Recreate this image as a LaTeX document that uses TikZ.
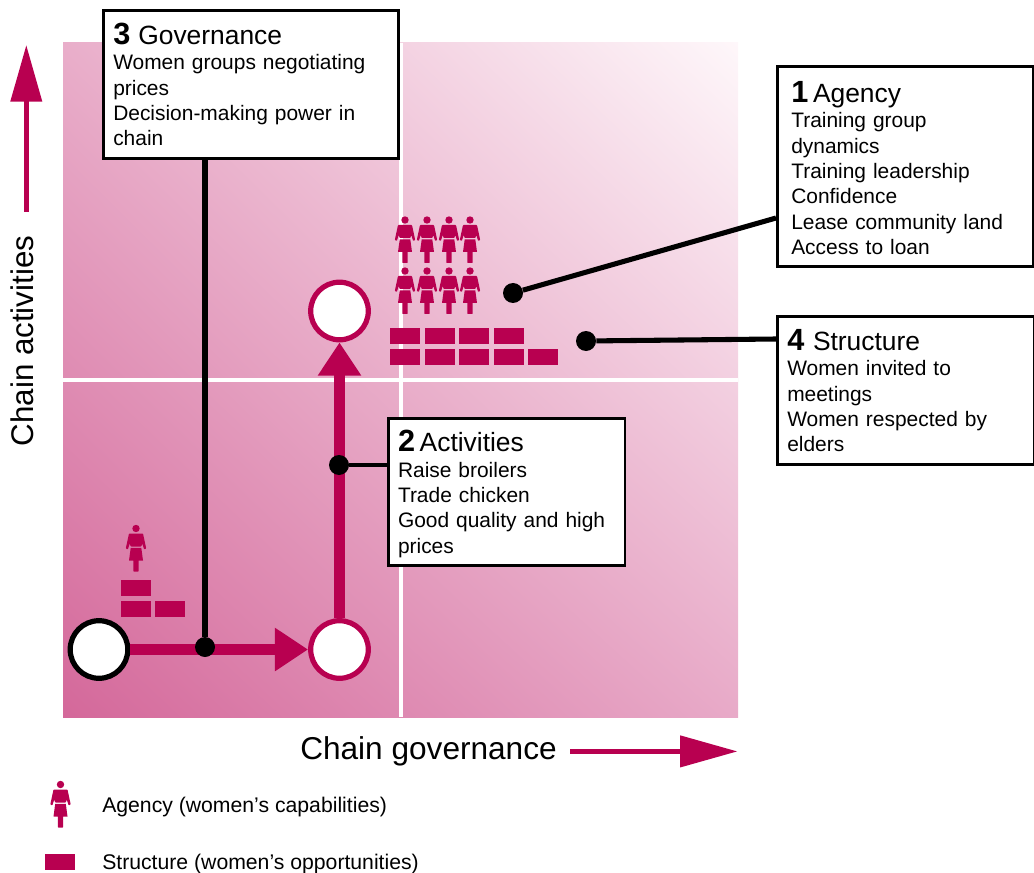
\documentclass[tikz,border=0pt]{standalone}
\usepackage{fontspec}
\setmainfont{Liberation Sans}
\usetikzlibrary{arrows.meta,shadings}
\definecolor{mag}{RGB}{184,0,80}
\definecolor{cLL}{RGB}{212,104,154}
\definecolor{cLR}{RGB}{232,170,200}
\definecolor{cUL}{RGB}{233,174,202}
\definecolor{cUR}{RGB}{254,247,250}
\tikzset{x=0.75pt,y=-0.75pt,
 textbox/.style={draw=black,line width=1.9pt,fill=white,anchor=north west,inner xsep=7.5pt,inner ysep=0pt,align=left,font=\fontsize{15.7}{19}\selectfont},
 brick/.style={fill=mag,draw=none,anchor=north west,minimum width=22.5pt,minimum height=12pt,inner sep=0pt},
 ring/.style={circle,fill=white,draw=mag,line width=3.9pt,minimum size=43.2pt,inner sep=0pt},
 blackring/.style={ring,draw=black},
 dot/.style={circle,fill=black,draw=none,minimum size=15pt,inner sep=0pt},
 leader/.style={draw=black,line width=3.8pt},
 thinleader/.style={draw=black,line width=3pt},
 flow/.style={draw=mag,line width=7.9pt},
 axisarrow/.style={draw=mag,line width=3.8pt},
 woman/.pic={
  \fill[mag] (0,0) circle (3.7);
  \fill[mag,rounded corners=0.5pt] (-7,5) -- (7,5) -- (10.2,20) -- (8.2,21) -- (6.2,15) -- (5.4,18) -- (-5.4,18) -- (-6.2,15) -- (-8.2,21) -- (-10.2,20) -- cycle;
  \fill[mag] (-5.3,19.4) -- (5.3,19.4) -- (7,32) -- (2.7,32) -- (2.7,42) [rounded corners=0.5pt] -- (2.7,43) -- (-2.7,43) -- (-2.7,42) [sharp corners] -- (-2.7,32) -- (-7,32) -- cycle;
 }}
\newcommand{\boxtitle}[3]{{\fontsize{23}{19}\selectfont\textbf{#1}}\hspace{#3}{\fontsize{19.8}{19}\selectfont #2}}
\begin{document}
\begin{tikzpicture}
\useasboundingbox (0,0) rectangle (1034,873);
\shade[lower left=cLL,lower right=cLR,upper left=cUL,upper right=cUR] (63,717) rectangle (738,43);
\fill[white] (399,43) rectangle (403,717);
\fill[white] (63,378) rectangle (738,382);
% bricks
\foreach \nm/\bx/\by in {a/390/328,b/425/328,c/459/328,d/494/328,e/390/349,f/425/349,g/459/349,h/494/349,i/528/349,j/121/580,k/121/601,l/155/601}
  \node[brick] (br\nm) at (\bx,\by) {};
% women
\foreach \wx in {405,427,449,470}{
  \pic at (\wx,220) {woman};
  \pic at (\wx,271) {woman};
}
\pic at (136,528.5) {woman};
\pic at (60.5,784.5) {woman};
\node[brick] (legendbrick) at (45,854) {};
% flow
\node[blackring] (start) at (99,649.5) {};
\node[ring] (mid) at (339.5,649.5) {};
\node[ring] (top) at (339.5,311) {};
\draw[flow,-{Triangle[length=25pt,width=31pt]}] (start) -- (mid);
\draw[flow,-{Triangle[length=25pt,width=31pt]}] (mid) -- (top);
% boxes
\node[textbox,text width=206.3pt,minimum height=111pt] (gov) at (102,9.3) {\boxtitle{3}{Governance}{6pt}\\Women groups negotiating\\prices\\Decision-making power in\\chain};
\node[textbox,text width=171pt,inner xsep=10.5pt,minimum height=150pt] (agency) at (776,65.3) {\rule{0pt}{18pt}\boxtitle{1}{Agency}{3.5pt}\\Training group\\dynamics\\Training leadership\\Confidence\\Lease community land\\Access to loan};
\node[textbox,text width=178pt,minimum height=111pt] (struct) at (776,315.3) {\boxtitle{4}{Structure}{6.5pt}\\Women invited to\\meetings\\Women respected by\\elders};
\node[textbox,text width=163pt,inner xsep=7.3pt,minimum height=110pt] (act) at (387,417.3) {\rule{0pt}{19pt}\boxtitle{2}{Activities}{3.5pt}\\Raise broilers\\Trade chicken\\Good quality and high\\prices};
% leaders
\node[dot] (dgov) at (205,647) {};
\node[dot] (dact) at (339,465) {};
\node[dot] (dag) at (513,293) {};
\node[dot] (dst) at (586,341) {};
\coordinate (govfoot) at (205,158);
\coordinate (agfoot) at (776,218);
\coordinate (stfoot) at (776,339);
\coordinate (actfoot) at (387,465);
\draw[leader] (dgov) -- (govfoot);
\draw[leader] (dag) -- (agfoot);
\draw[leader] (dst) -- (stfoot);
\draw[thinleader] (dact) -- (actfoot);
% axes
\node[rotate=90,font=\fontsize{23.5}{28}\selectfont,inner sep=0pt] (ylab) at (22,341) {Chain activities};
\node[font=\fontsize{23.7}{28}\selectfont,inner sep=0pt,anchor=base west] (xlab) at (300,759) {Chain governance};
\coordinate (ya) at (26.3,212);
\coordinate (yb) at (26.3,45);
\coordinate (xa) at (570,751.4);
\coordinate (xb) at (737.5,751.4);
\draw[axisarrow,-{Triangle[length=42.5pt,width=23pt]}] (ya) -- (yb);
\draw[axisarrow,-{Triangle[length=43pt,width=23pt]}] (xa) -- (xb);
% legend
\node[anchor=base west,inner sep=0pt,font=\fontsize{15.9}{19}\selectfont] (la) at (102,812) {Agency (women’s capabilities)};
\node[anchor=base west,inner sep=0pt,font=\fontsize{15.9}{19}\selectfont] (ls) at (102,869) {Structure (women’s opportunities)};
\end{tikzpicture}
\end{document}
